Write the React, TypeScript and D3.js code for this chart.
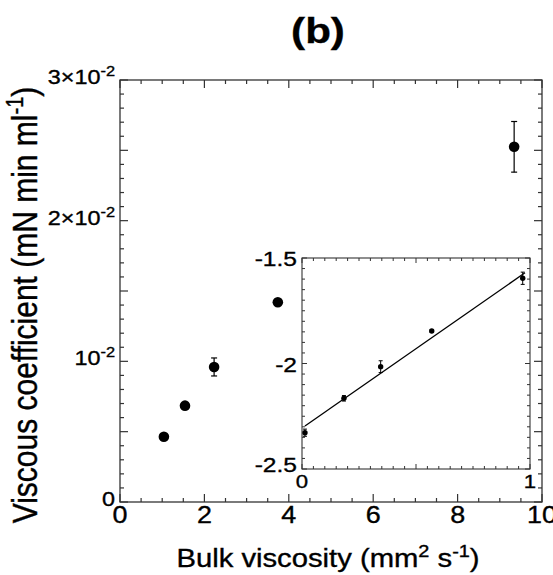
import React from 'react';
import * as d3 from 'd3';

// main panel: viscous coefficient vs bulk viscosity
const bulkVisc = [1.04, 1.54, 2.23, 3.74, 9.34];
const viscCoef = [0.00464, 0.00685, 0.0096, 0.0142, 0.02525];
const viscErr = [0.0002, 0.0002, 0.00064, 0.0002, 0.0018];

// inset: log-log values with linear fit
const logBulk = [0.013, 0.184, 0.345, 0.569, 0.968];
const logCoef = [-2.328, -2.165, -2.015, -1.846, -1.596];
const logErr = [0.017, 0.013, 0.028, 0.006, 0.029];
const fitX = [0.013, 0.978];
const fitY = [-2.296, -1.57];

const xTicks = [0, 2, 4, 6, 8, 10];
const xTickLabels = ['0', '2', '4', '6', '8', '10'];
const yTicks = [0, 0.01, 0.02, 0.03];
const yTickBase = ['0', '10', '2×10', '3×10'];
const yTickExp = ['', '-2', '-2', '-2'];
const insetXTicks = [0, 1];
const insetXLabels = ['0', '1'];
const insetYTicks = [-2.5, -2, -1.5];
const insetYLabels = ['-2.5', '-2', '-1.5'];

const W = 553;
const H = 575;
const SX = 1.17; // the source glyphs are a bit wide
const FONT = "'Liberation Sans', Arial, Helvetica, sans-serif";

function Txt({ x, y, size, anchor = 'middle', weight = 'normal', rotate = false, children }: any) {
  return (
    <g transform={`translate(${x},${y}) scale(${SX},1)${rotate ? ' rotate(-90)' : ''}`}>
      <text fontFamily={FONT} fontSize={size} textAnchor={anchor} fontWeight={weight}
        fill="#000" stroke="#000" strokeWidth={0.35}>
        {children}
      </text>
    </g>
  );
}

export default function App() {
  const x = d3.scaleLinear().domain([0, 10]).range([120, 542]);
  const y = d3.scaleLinear().domain([0, 0.03]).range([502, 80]);
  const ix = d3.scaleLinear().domain([0, 1]).range([302, 530]);
  const iy = d3.scaleLinear().domain([-2.5, -1.5]).range([469, 258]);

  const axisCol = '#333';
  const fitLine = d3.line<number>().x((d, i) => ix(d)).y((d, i) => iy(fitY[i]));

  const xMinor = d3.range(0, 10.001, 0.5);
  const yMinor = d3.range(0, 0.03001, 0.001);
  const ixMinor = d3.range(0, 1.0001, 0.05);
  const iyMinor = d3.range(-2.5, -1.4999, 0.05);

  return (
    <svg width={W} height={H} style={{ position: 'absolute', left: 0, top: 0, background: '#fff' }}>
      <Txt x={318} y={43} size={36} weight="bold">(b)</Txt>

      {/* main frame */}
      <rect x={x(0)} y={y(0.03)} width={x(10) - x(0)} height={y(0) - y(0.03)} fill="none" stroke={axisCol} strokeWidth={1.3} />

      {xMinor.map((v, i) => {
        const big = Math.abs(v / 2 - Math.round(v / 2)) < 1e-6;
        const len = big ? 8 : 4;
        return (
          <g key={'xm' + i} stroke={axisCol} strokeWidth={1.2}>
            <line x1={x(v)} x2={x(v)} y1={y(0)} y2={y(0) - len} />
            <line x1={x(v)} x2={x(v)} y1={y(0.03)} y2={y(0.03) + len} />
          </g>
        );
      })}
      {yMinor.map((v, i) => {
        const big = i % 5 === 0;
        const len = big ? 8 : 4;
        return (
          <g key={'ym' + i} stroke={axisCol} strokeWidth={1.2}>
            <line x1={x(0)} x2={x(0) + len} y1={y(v)} y2={y(v)} />
            <line x1={x(10)} x2={x(10) - len} y1={y(v)} y2={y(v)} />
          </g>
        );
      })}

      {xTicks.map((v, i) => (
        <Txt key={'xl' + i} x={x(v)} y={523} size={23}>{xTickLabels[i]}</Txt>
      ))}
      {yTicks.map((v, i) => (
        <Txt key={'yl' + i} x={115} y={y(v) + 4} size={20} anchor="end">
          {yTickBase[i]}
          {yTickExp[i] && <tspan dy={-8} fontSize={14}>{yTickExp[i]}</tspan>}
        </Txt>
      ))}

      <Txt x={328} y={567} size={25}>
        Bulk viscosity (mm<tspan dy={-10} fontSize={17}>2</tspan>
        <tspan dy={10}> s</tspan>
        <tspan dy={-10} fontSize={17}>-1</tspan>
        <tspan dy={10}>)</tspan>
      </Txt>
      <Txt x={37} y={305} size={30} rotate>
        Viscous coefficient (mN min ml<tspan dy={-12} fontSize={20}>-1</tspan>
        <tspan dy={12}>)</tspan>
      </Txt>

      {/* main data */}
      {bulkVisc.map((v, i) => (
        <g key={'p' + i}>
          <g stroke="#000" strokeWidth={1.2}>
            <line x1={x(v)} x2={x(v)} y1={y(viscCoef[i] - viscErr[i])} y2={y(viscCoef[i] + viscErr[i])} />
            <line x1={x(v) - 3} x2={x(v) + 3} y1={y(viscCoef[i] - viscErr[i])} y2={y(viscCoef[i] - viscErr[i])} />
            <line x1={x(v) - 3} x2={x(v) + 3} y1={y(viscCoef[i] + viscErr[i])} y2={y(viscCoef[i] + viscErr[i])} />
          </g>
          <circle cx={x(v)} cy={y(viscCoef[i])} r={5.3} fill="#000" />
        </g>
      ))}

      {/* inset */}
      <rect x={ix(0)} y={iy(-1.5)} width={ix(1) - ix(0)} height={iy(-2.5) - iy(-1.5)} fill="#fff" stroke={axisCol} strokeWidth={1.1} />
      {ixMinor.map((v, i) => {
        const len = i % 10 === 0 ? 5 : 3;
        return (
          <g key={'ixm' + i} stroke={axisCol} strokeWidth={1}>
            <line x1={ix(v)} x2={ix(v)} y1={iy(-2.5)} y2={iy(-2.5) - len} />
            <line x1={ix(v)} x2={ix(v)} y1={iy(-1.5)} y2={iy(-1.5) + len} />
          </g>
        );
      })}
      {iyMinor.map((v, i) => {
        const len = i % 10 === 0 ? 5 : 3;
        return (
          <g key={'iym' + i} stroke={axisCol} strokeWidth={1}>
            <line x1={ix(0)} x2={ix(0) + len} y1={iy(v)} y2={iy(v)} />
            <line x1={ix(1)} x2={ix(1) - len} y1={iy(v)} y2={iy(v)} />
          </g>
        );
      })}
      {insetXTicks.map((v, i) => (
        <Txt key={'ixl' + i} x={ix(v)} y={488} size={19}>{insetXLabels[i]}</Txt>
      ))}
      {insetYTicks.map((v, i) => (
        <Txt key={'iyl' + i} x={297} y={iy(v) + (i === 0 ? 3 : 8)} size={21} anchor="end">{insetYLabels[i]}</Txt>
      ))}

      <path d={fitLine(fitX) || ''} fill="none" stroke="#000" strokeWidth={1.3} />
      {logBulk.map((v, i) => (
        <g key={'ip' + i}>
          <g stroke="#000" strokeWidth={1}>
            <line x1={ix(v)} x2={ix(v)} y1={iy(logCoef[i] - logErr[i])} y2={iy(logCoef[i] + logErr[i])} />
            <line x1={ix(v) - 2} x2={ix(v) + 2} y1={iy(logCoef[i] - logErr[i])} y2={iy(logCoef[i] - logErr[i])} />
            <line x1={ix(v) - 2} x2={ix(v) + 2} y1={iy(logCoef[i] + logErr[i])} y2={iy(logCoef[i] + logErr[i])} />
          </g>
          <circle cx={ix(v)} cy={iy(logCoef[i])} r={2.7} fill="#000" />
        </g>
      ))}
    </svg>
  );
}
